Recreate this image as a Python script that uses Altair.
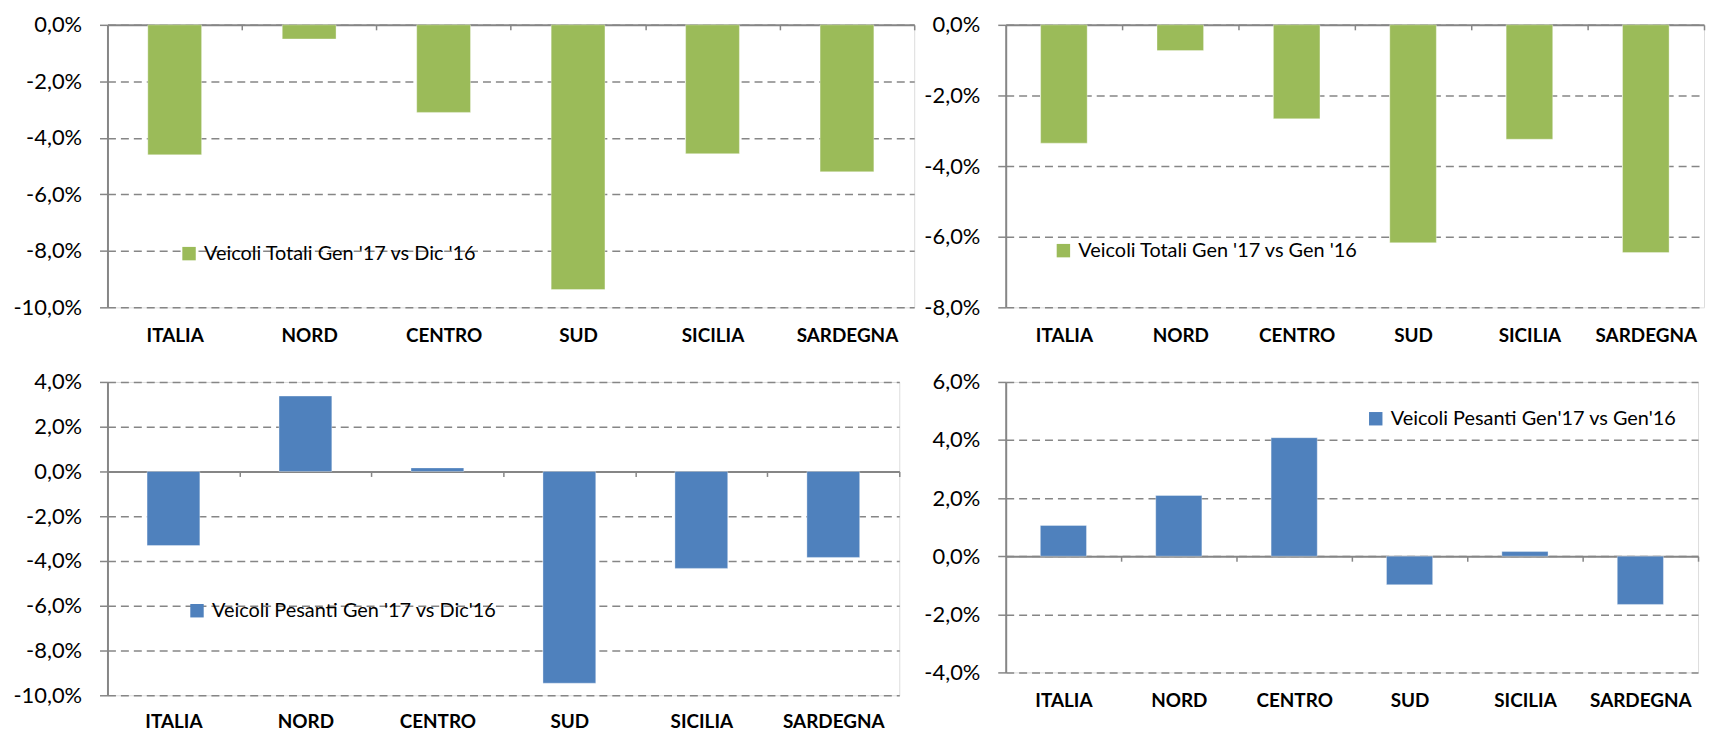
import altair as alt
import pandas as pd

regions = ["ITALIA", "NORD", "CENTRO", "SUD", "SICILIA", "SARDEGNA"]

tot_dic_name = "Veicoli Totali Gen '17 vs Dic '16"
tot_dic = [-4.6, -0.5, -3.1, -9.37, -4.56, -5.2]

tot_gen_name = "Veicoli Totali Gen '17 vs Gen '16"
tot_gen = [-3.35, -0.73, -2.66, -6.17, -3.24, -6.45]

pes_dic_name = "Veicoli Pesanti Gen '17 vs Dic'16"
pes_dic = [-3.31, 3.37, 0.16, -9.46, -4.33, -3.84]

pes_gen_name = "Veicoli Pesanti Gen'17 vs Gen'16"
pes_gen = [1.06, 2.09, 4.08, -0.98, 0.16, -1.66]

GREEN = "#9BBB59"
BLUE = "#4F81BD"
GRAY = "#868686"
FONT = "Lato"

LABEL_EXPR = "(datum.value < 0 ? '-' : '') + replace(format(abs(datum.value), '.1f'), '.', ',') + '%'"


def panel(values, name, color, ymin, ymax, width, height, label_pad, leg_x, leg_y):
    df = pd.DataFrame({"region": regions, "value": values, "series": name})
    zero_pos = height * ymax / (ymax - ymin)
    step = width / len(regions)
    ticks = list(range(int(ymin), int(ymax) + 1, 2))
    return alt.Chart(df).mark_bar(stroke="#ffffff", strokeOpacity=0.35, strokeWidth=1).encode(
        x=alt.X(
            "region:N",
            sort=regions,
            scale=alt.Scale(paddingInner=0.6, paddingOuter=0.3),
            axis=alt.Axis(
                title=None,
                orient="bottom",
                offset=-(height - zero_pos),
                domain=True,
                domainColor=GRAY,
                domainWidth=2,
                ticks=True,
                tickBand="center",
                tickOffset=step / 2,
                labelOffset=-step / 2,
                tickColor=GRAY,
                tickWidth=1.5,
                tickSize=5,
                labelAngle=0,
                labelPadding=label_pad,
                labelBaseline="middle",
                labelFont=FONT,
                labelFontSize=19,
                labelFontWeight="bold",
                labelColor="#000",
                labelOverlap=False,
                labelFlush=False,
                grid=False,
            ),
        ),
        y=alt.Y(
            "value:Q",
            scale=alt.Scale(domain=[ymin, ymax], nice=False, zero=False),
            axis=alt.Axis(
                title=None,
                values=ticks,
                labelExpr=LABEL_EXPR,
                domain=True,
                domainColor=GRAY,
                domainWidth=2,
                ticks=True,
                tickColor=GRAY,
                tickWidth=1.5,
                tickSize=8,
                labelPadding=18,
                labelFont=FONT,
                labelFontSize=22,
                labelColor="#000",
                labelFlush=False,
                labelOverlap=False,
                grid=True,
                gridColor=GRAY,
                gridDash=[8, 5],
                gridWidth=1.5,
            ),
        ),
        color=alt.Color(
            "series:N",
            scale=alt.Scale(domain=[name], range=[color]),
            legend=alt.Legend(
                title=None,
                orient="none",
                legendX=leg_x,
                legendY=leg_y,
                padding=0,
                symbolType="square",
                symbolSize=182,
                symbolStrokeWidth=0,
                labelFont=FONT,
                labelFontSize=20,
                labelColor="#000",
                labelOffset=5,
                labelLimit=600,
            ),
        ),
    ).properties(width=width, height=height)


tl = panel(tot_dic, tot_dic_name, GREEN, -10, 0, 811, 284, 307, 72, 220)
tr = panel(tot_gen, tot_gen_name, GREEN, -8, 0, 702, 284, 307, 48, 217)
bl = panel(pes_dic, pes_dic_name, BLUE, -10, 4, 796, 315, 246, 80, 220)
br = panel(pes_gen, pes_gen_name, BLUE, -4, 6, 696, 292, 140, 362, 27)

chart = alt.concat(
    tl, tr, bl, br, columns=2, spacing={"row": 75, "column": 92}, bounds="flush"
).resolve_scale(
    color="independent", y="independent", x="independent"
).properties(
    padding={"left": 4, "top": 3, "right": 0, "bottom": 0}
).configure_view(stroke=None).configure(background="white")

chart.save("out.html", embed_options={"renderer": "svg", "actions": False})
